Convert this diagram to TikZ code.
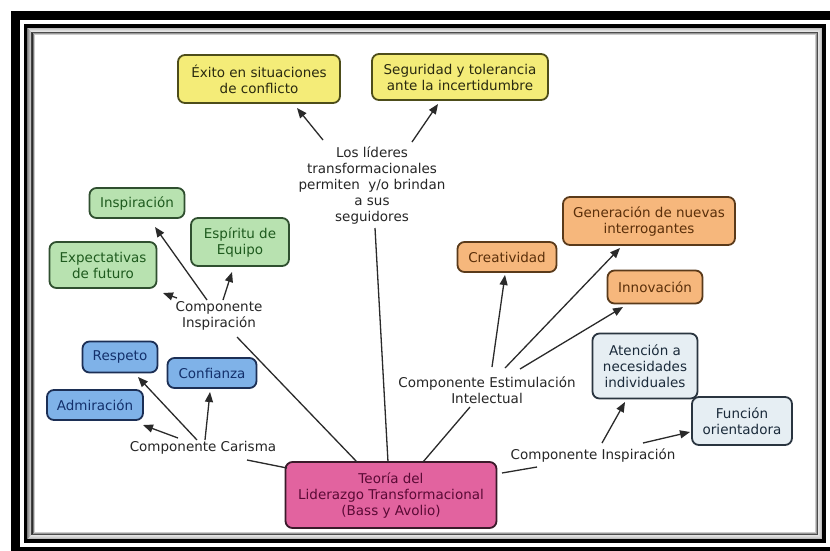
\documentclass[tikz,border=0pt]{standalone}
\usepackage{fontspec}
\setmainfont{DejaVu Sans}
\usetikzlibrary{arrows.meta,calc}

\definecolor{linecol}{HTML}{2A2A2A}
\definecolor{yelfill}{HTML}{F4EC78}\definecolor{yeldraw}{HTML}{4D4D1A}\definecolor{yeltext}{HTML}{2A2A10}
\definecolor{grnfill}{HTML}{B8E2B0}\definecolor{grndraw}{HTML}{2F4F2F}\definecolor{grntext}{HTML}{1E5A1E}
\definecolor{blufill}{HTML}{7FB2E8}\definecolor{bludraw}{HTML}{1C2F55}\definecolor{blutext}{HTML}{13306B}
\definecolor{orgfill}{HTML}{F6B77C}\definecolor{orgdraw}{HTML}{5A3A1A}\definecolor{orgtext}{HTML}{5A2F0A}
\definecolor{pnkfill}{HTML}{E2639F}\definecolor{pnkdraw}{HTML}{3A1A2A}\definecolor{pnktext}{HTML}{5A0A35}
\definecolor{gryfill}{HTML}{E6EEF3}\definecolor{grydraw}{HTML}{2A3540}\definecolor{grytext}{HTML}{1A2A3A}

\tikzset{
  conceptbox/.style={rounded corners=7pt, line width=1.8pt, align=center, inner sep=2pt,
    font=\fontsize{13.5}{16}\selectfont},
  yelbox/.style={conceptbox, fill=yelfill, draw=yeldraw, text=yeltext},
  grnbox/.style={conceptbox, fill=grnfill, draw=grndraw, text=grntext},
  blubox/.style={conceptbox, fill=blufill, draw=bludraw, text=blutext},
  orgbox/.style={conceptbox, fill=orgfill, draw=orgdraw, text=orgtext},
  pnkbox/.style={conceptbox, fill=pnkfill, draw=pnkdraw, text=pnktext},
  grybox/.style={conceptbox, fill=gryfill, draw=grydraw, text=grytext},
  linklabel/.style={align=center, inner sep=1pt, text=black!85,
    font=\fontsize{13.5}{16}\selectfont},
  link/.style={draw=linecol, line width=1.3pt},
  arrowlink/.style={link, -{Triangle[length=10pt,width=8pt]}},
}

\begin{document}
\begin{tikzpicture}[x=1pt,y=-1pt]
\useasboundingbox (0,0) rectangle (830,550);
\fill[white] (0,0) rectangle (830,550);

% double black frame with a soft shadow inside the inner line
\draw[black, line width=9pt] (15.5,15) rectangle (840,551);
\foreach \d/\o in {1.5/34,2.5/26,3.5/19,4.5/14,5.5/10,6.5/7,7.5/4,8.5/2}
  \draw[black, opacity=0.\o, line width=1.05pt] (25.5+\d,26+\d) rectangle (824-\d,541-\d);
\draw[black, line width=3.5pt] (25.5,26) rectangle (824,541);

% concept boxes
\node[yelbox, minimum width=162pt, minimum height=48pt] (exito) at (259,79) {Éxito en situaciones\\de conflicto};
\node[yelbox, minimum width=176pt, minimum height=46pt] (segur) at (460,77) {Seguridad y tolerancia\\ante la incertidumbre};

\node[grnbox, minimum width=95pt, minimum height=30pt] (inspir) at (137,203) {Inspiración};
\node[grnbox, minimum width=98pt, minimum height=48pt] (espir) at (240,242) {Espíritu de\\Equipo};
\node[grnbox, minimum width=107pt, minimum height=46pt] (expect) at (103,265) {Expectativas\\de futuro};

\node[blubox, minimum width=75pt, minimum height=31pt] (respeto) at (120,357) {Respeto};
\node[blubox, minimum width=89pt, minimum height=30pt] (conf) at (212,373) {Confianza};
\node[blubox, minimum width=96pt, minimum height=30pt] (admir) at (95,405) {Admiración};

\node[orgbox, minimum width=99pt, minimum height=30pt] (creat) at (507,257) {Creatividad};
\node[orgbox, minimum width=172pt, minimum height=48pt] (gener) at (649,221) {Generación de nuevas\\interrogantes};
\node[orgbox, minimum width=95pt, minimum height=33pt] (innov) at (655,287) {Innovación};

\node[grybox, minimum width=105pt, minimum height=65pt] (atenc) at (645,366) {Atención a\\necesidades\\individuales};
\node[grybox, minimum width=100pt, minimum height=48pt] (func) at (742,421) {Función\\orientadora};

\node[pnkbox, minimum width=211pt, minimum height=66pt] (teoria) at (391,495) {Teoría del\\Liderazgo Transformacional\\(Bass y Avolio)};

% linking phrases
\node[linklabel] (lid) at (372,185) {Los líderes\\transformacionales\\permiten\ \ y/o brindan\\a sus\\seguidores};
\node[linklabel] (ci) at (219,316) {Componente\\Inspiración};
\node[linklabel] (cc) at (203,448) {Componente Carisma};
\node[linklabel] (ce) at (487,390) {Componente Estimulación\\Intelectual};
\node[linklabel] (ci2) at (593,455) {Componente Inspiración};

% connectors
\draw[arrowlink] ($(lid)+(-49,-45)$) -- ($(exito)+(38,29)$);
\draw[arrowlink] ($(lid)+(40,-43)$) -- ($(segur)+(-22,27)$);
\draw[link] ($(lid)+(3,43)$) -- ($(teoria)+(-3,-33)$);

\draw[arrowlink] ($(ci)+(-12,-16)$) -- ($(inspir)+(18,24)$);
\draw[arrowlink] ($(ci)+(4,-16)$) -- ($(espir)+(-8,30)$);
\draw[arrowlink] ($(ci)+(-42,-18)$) -- ($(expect)+(60,28)$);
\draw[link] ($(ci)+(18,21)$) -- ($(teoria)+(-34,-33)$);

\draw[arrowlink] ($(cc)+(-6,-8)$) -- ($(respeto)+(18,20)$);
\draw[arrowlink] ($(cc)+(2,-8)$) -- ($(conf)+(-2,19)$);
\draw[arrowlink] ($(cc)+(-25,-10)$) -- ($(admir)+(48,20)$);
\draw[link] ($(cc)+(44,12)$) -- ($(teoria)+(-104,-27)$);

\draw[link] ($(ce)+(-17,17)$) -- ($(teoria)+(32,-33)$);
\draw[arrowlink] ($(ce)+(5,-23)$) -- ($(creat)+(-2,18)$);
\draw[arrowlink] ($(ce)+(18,-22)$) -- ($(gener)+(-29,27)$);
\draw[arrowlink] ($(ce)+(33,-21)$) -- ($(innov)+(-32,20)$);

\draw[arrowlink] ($(ci2)+(9,-12)$) -- ($(atenc)+(-20,36)$);
\draw[arrowlink] ($(ci2)+(50,-12)$) -- ($(func)+(-52,11)$);
\draw[link] ($(ci2)+(-56,12)$) -- ($(teoria)+(111,-22)$);
\end{tikzpicture}
\end{document}
